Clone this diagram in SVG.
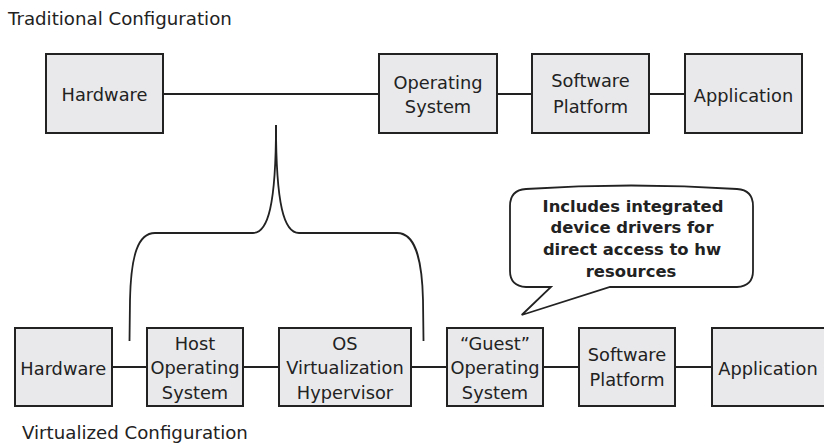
<svg xmlns="http://www.w3.org/2000/svg" width="824" height="443" viewBox="0 0 824 443">
<style>
.box{fill:#e9e9eb;stroke:#222;stroke-width:2}
.t{font-family:"DejaVu Sans",sans-serif;font-size:17.8px;fill:#222;text-anchor:middle}
.lbl{font-family:"DejaVu Sans",sans-serif;font-size:18.2px;fill:#222}
.b{font-family:"DejaVu Sans",sans-serif;font-size:16.4px;font-weight:bold;fill:#222;text-anchor:middle}
.ln{fill:none;stroke:#222;stroke-width:2}
.br{fill:none;stroke:#222;stroke-width:1.8}
</style>
<rect width="824" height="443" fill="#fff"/>
<text class="lbl" x="8" y="25">Traditional Configuration</text>
<text class="lbl" x="22" y="439">Virtualized Configuration</text>
<g id="connectors">
<line class="ln" x1="163" y1="94" x2="379" y2="94"/>
<line class="ln" x1="497" y1="94" x2="532" y2="94"/>
<line class="ln" x1="649" y1="94" x2="685" y2="94"/>
<line class="ln" x1="112" y1="367" x2="147" y2="367"/>
<line class="ln" x1="243" y1="367" x2="279" y2="367"/>
<line class="ln" x1="411" y1="367" x2="447" y2="367"/>
<line class="ln" x1="543" y1="367" x2="579" y2="367"/>
<line class="ln" x1="675" y1="367" x2="712" y2="367"/>
<path class="br" d="M276,125 C276,205 268,233 253,233 L155,233 C138,233 131,255 130,300 L129.5,341"/>
<path class="br" d="M276,125 C276,205 284,233 299,233 L397,233 C414,233 422,255 423,300 L423.5,341"/>
</g>
<g id="t-hardware"><rect class="box" x="46" y="54" width="117" height="79"/><text class="t" x="104.5" y="101">Hardware</text></g>
<g id="t-os"><rect class="box" x="379" y="54" width="118" height="79"/><text class="t" x="438" y="89">Operating</text><text class="t" x="438" y="113">System</text></g>
<g id="t-sp"><rect class="box" x="532" y="54" width="117" height="79"/><text class="t" x="590.5" y="87">Software</text><text class="t" x="590.5" y="112.5">Platform</text></g>
<g id="t-app"><rect class="box" x="685" y="54" width="117" height="79"/><text class="t" x="743.5" y="101.5">Application</text></g>
<g id="v-hardware"><rect class="box" x="15" y="328" width="97" height="78"/><text class="t" x="63.3" y="375">Hardware</text></g>
<g id="v-hostos"><rect class="box" x="147" y="328" width="96" height="78"/><text class="t" x="195" y="349.5">Host</text><text class="t" x="195" y="374">Operating</text><text class="t" x="195" y="398.5">System</text></g>
<g id="v-hyper"><rect class="box" x="279" y="328" width="132" height="78"/><text class="t" x="345" y="349.5">OS</text><text class="t" x="345" y="374">Virtualization</text><text class="t" x="345" y="398.5">Hypervisor</text></g>
<g id="v-guest"><rect class="box" x="447" y="328" width="96" height="78"/><text class="t" x="495" y="349.5">“Guest”</text><text class="t" x="495" y="374">Operating</text><text class="t" x="495" y="398.5">System</text></g>
<g id="v-sp"><rect class="box" x="579" y="328" width="96" height="78"/><text class="t" x="627" y="361">Software</text><text class="t" x="627" y="386">Platform</text></g>
<g id="v-app"><rect class="box" x="712" y="328" width="118" height="78"/><text class="t" x="768" y="375">Application</text></g>
<g id="callout">
<path fill="#fff" stroke="#222" stroke-width="1.8" d="M526,189 Q631,182 737,189 Q753,190 753,206 L753,271 Q753,286 737,287 L610,287 L521.7,315 L551,287 L526,287 Q510,286 510,271 L510,206 Q510,190 526,189 Z"/>
<text class="b" x="633" y="211.5">Includes integrated</text>
<text class="b" x="632" y="233">device drivers for</text>
<text class="b" x="632" y="255">direct access to hw</text>
<text class="b" x="631" y="276.5">resources</text>
</g>
</svg>
